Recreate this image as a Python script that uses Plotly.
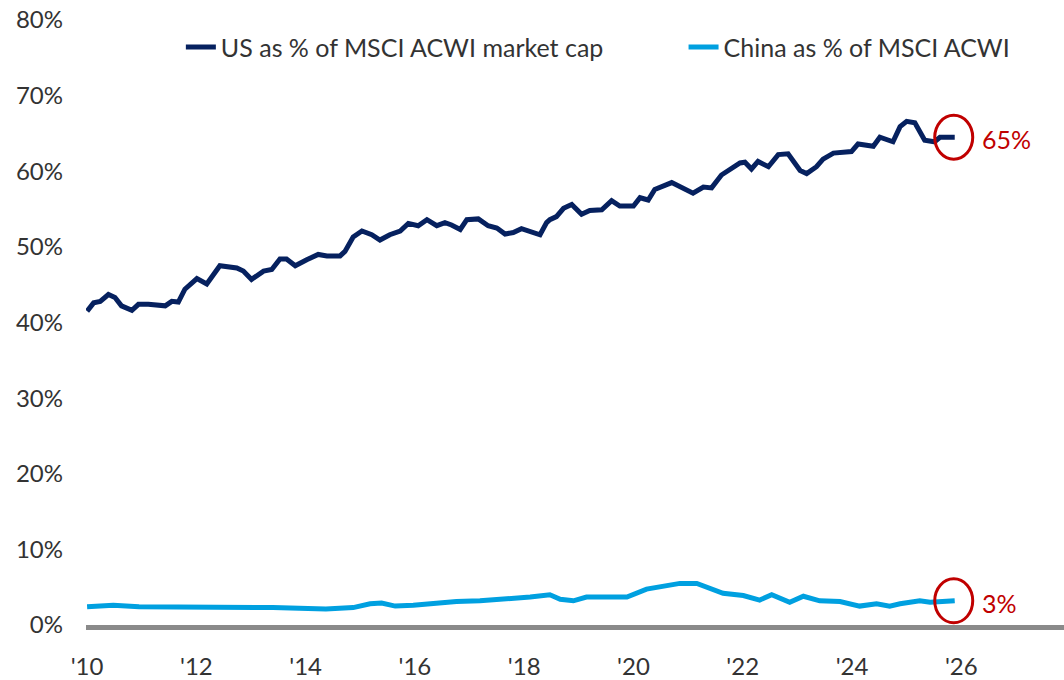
import plotly.graph_objects as go

# ---- data (decimal years, % of MSCI ACWI) ----
us_years = [2010.00, 2010.12, 2010.24, 2010.39, 2010.51, 2010.63, 2010.82, 2010.94,
            2011.12, 2011.30, 2011.43, 2011.55, 2011.67, 2011.79, 2012.01, 2012.19,
            2012.43, 2012.74, 2012.86, 2013.01, 2013.23, 2013.38, 2013.53, 2013.65,
            2013.81, 2014.02, 2014.23, 2014.39, 2014.63, 2014.72, 2014.87, 2015.03,
            2015.21, 2015.36, 2015.54, 2015.73, 2015.88, 2016.06, 2016.22, 2016.40,
            2016.55, 2016.67, 2016.83, 2016.95, 2017.16, 2017.34, 2017.50, 2017.65,
            2017.80, 2017.95, 2018.11, 2018.29, 2018.41, 2018.47, 2018.59, 2018.72,
            2018.87, 2019.05, 2019.20, 2019.42, 2019.60, 2019.75, 2020.00, 2020.12,
            2020.27, 2020.39, 2020.70, 2020.91, 2021.09, 2021.28, 2021.43, 2021.61,
            2021.95, 2022.04, 2022.16, 2022.28, 2022.47, 2022.65, 2022.83, 2023.05,
            2023.17, 2023.35, 2023.47, 2023.66, 2023.99, 2024.11, 2024.39, 2024.51,
            2024.75, 2024.88, 2025.00, 2025.15, 2025.33, 2025.51, 2025.61, 2025.88]
us_share = [41.5, 42.6, 42.8, 43.7, 43.3, 42.2, 41.6, 42.4,
            42.4, 42.3, 42.2, 42.8, 42.7, 44.4, 45.8, 45.1,
            47.5, 47.2, 46.8, 45.7, 46.8, 47.0, 48.4, 48.4,
            47.5, 48.3, 49.0, 48.8, 48.8, 49.4, 51.3, 52.1,
            51.6, 50.9, 51.6, 52.1, 53.1, 52.8, 53.6, 52.8,
            53.2, 52.9, 52.3, 53.6, 53.7, 52.8, 52.5, 51.7,
            51.9, 52.4, 52.1, 51.6, 53.2, 53.6, 54.0, 55.1,
            55.6, 54.3, 54.8, 54.9, 56.1, 55.4, 55.4, 56.5,
            56.2, 57.6, 58.5, 57.8, 57.1, 57.9, 57.8, 59.5,
            61.1, 61.2, 60.3, 61.3, 60.6, 62.2, 62.3, 60.1,
            59.7, 60.6, 61.6, 62.4, 62.6, 63.6, 63.3, 64.5,
            63.9, 65.9, 66.6, 66.4, 64.1, 63.9, 64.5, 64.5]

cn_years = [2010.00, 2010.48, 2010.95, 2011.45, 2011.94, 2012.42, 2012.91, 2013.40,
            2013.88, 2014.37, 2014.87, 2015.18, 2015.39, 2015.64, 2015.97, 2016.40,
            2016.76, 2017.19, 2017.62, 2018.11, 2018.47, 2018.66, 2018.90, 2019.14,
            2019.57, 2019.88, 2020.24, 2020.48, 2020.61, 2020.85, 2021.16, 2021.40,
            2021.64, 2022.01, 2022.31, 2022.53, 2022.86, 2023.11, 2023.41, 2023.78,
            2024.14, 2024.45, 2024.69, 2024.88, 2025.24, 2025.43, 2025.61, 2025.88]
cn_share = [2.4, 2.6, 2.4, 2.4, 2.4, 2.3, 2.4, 2.3,
            2.2, 2.1, 2.3, 2.8, 2.9, 2.5, 2.6, 2.9,
            3.1, 3.2, 3.4, 3.7, 4.0, 3.4, 3.2, 3.7,
            3.7, 3.7, 4.75, 5.0, 5.2, 5.5, 5.5, 4.8,
            4.2, 3.9, 3.3, 4.0, 3.0, 3.8, 3.2, 3.1,
            2.5, 2.8, 2.5, 2.8, 3.2, 3.0, 3.1, 3.2]

series_names = ["US as % of MSCI ACWI market cap", "China as % of MSCI ACWI"]
end_labels = ["65%", "3%"]
x_tick_vals = [2010, 2012, 2014, 2016, 2018, 2020, 2022, 2024, 2026]
x_tick_text = ["'10", "'12", "'14", "'16", "'18", "'20", "'22", "'24", "'26"]
y_tick_vals = [0, 10, 20, 30, 40, 50, 60, 70, 80]
y_tick_text = ["0%", "10%", "20%", "30%", "40%", "50%", "60%", "70%", "80%"]

# ---- style ----
FONT = "Lato"
TXT = "#333333"
NAVY = "#06215f"
SKY = "#00a0e0"
RED = "#c00000"

fig = go.Figure()
fig.add_trace(go.Scatter(x=us_years, y=us_share, mode="lines", name=series_names[0],
                         line=dict(color=NAVY, width=5), legend="legend"))
fig.add_trace(go.Scatter(x=cn_years, y=cn_share, mode="lines", name=series_names[1],
                         line=dict(color=SKY, width=5), legend="legend2"))

for xs, ys, lab in [(us_years, us_share, end_labels[0]), (cn_years, cn_share, end_labels[1])]:
    fig.add_shape(type="circle", xref="x", yref="y", xsizemode="pixel", ysizemode="pixel",
                  xanchor=xs[-1], yanchor=ys[-1], x0=-20, x1=18, y0=-22, y1=22,
                  line=dict(color=RED, width=3))
    fig.add_annotation(x=xs[-1], y=ys[-1], text=lab, showarrow=False, xanchor="left",
                       yanchor="middle", xshift=25, yshift=-2,
                       font=dict(family=FONT, size=25, color=RED))

leg_common = dict(orientation="h", xanchor="left", y=0.955, yanchor="middle",
                  font=dict(family=FONT, size=25, color=TXT),
                  bgcolor="rgba(0,0,0,0)", itemwidth=30)

fig.update_layout(
    width=1064, height=680,
    margin=dict(l=86, r=0, t=20, b=53),
    paper_bgcolor="white", plot_bgcolor="white",
    font=dict(family=FONT, size=25, color=TXT),
    showlegend=True,
    legend=dict(x=0.097, **leg_common),
    legend2=dict(x=0.611, **leg_common),
    xaxis=dict(range=[2009.98, 2027.88], tickvals=x_tick_vals, ticktext=x_tick_text,
               showgrid=False, zeroline=False, showline=True, linecolor="#8a8a8a",
               linewidth=5, ticks="", ticklabelstandoff=16,
               tickfont=dict(family=FONT, size=24, color=TXT)),
    yaxis=dict(range=[0, 80], tickvals=y_tick_vals, ticktext=y_tick_text,
               showgrid=False, zeroline=False, showline=False, ticks="",
               ticklabelstandoff=22, tickfont=dict(family=FONT, size=24, color=TXT)),
)

fig.write_html("out.html", config={"displayModeBar": False},
               post_script="document.body.style.margin='0';document.body.style.overflow='hidden';")
